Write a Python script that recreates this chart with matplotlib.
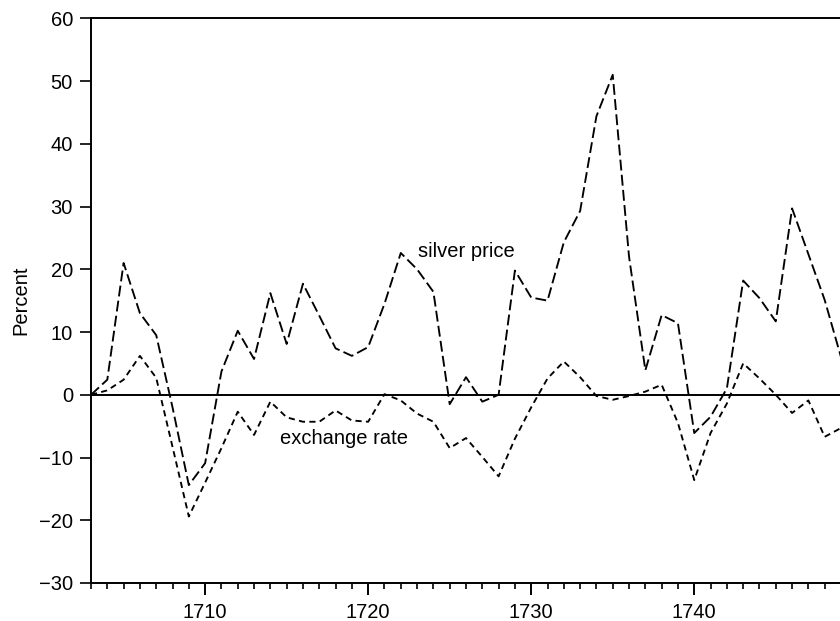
import matplotlib
matplotlib.use("Agg")
import matplotlib.pyplot as plt
from matplotlib.ticker import MultipleLocator

plt.rcParams['font.family'] = ['Liberation Sans', 'DejaVu Sans']

years = list(range(1703, 1750))
silver_price = [0, 2.4, 21.0, 13.0, 9.5, -2.0, -14.4, -10.9, 3.7, 10.2,
                5.7, 16.2, 8.1, 17.7, 12.6, 7.4, 6.2, 7.6, 14.5, 22.6,
                20.0, 16.4, -1.5, 2.8, -1.1, 0.0, 19.8, 15.5, 15.0, 24.3,
                29.3, 44.4, 51.0, 22.0, 3.9, 12.7, 11.4, -6.1, -3.5, 1.0,
                18.2, 15.4, 11.7, 29.7, 22.4, 15.1, 6.0]
exchange_rate = [0, 0.7, 2.4, 6.2, 2.7, -8.3, -19.4, -14.0, -8.5, -2.7,
                 -6.4, -1.1, -3.6, -4.3, -4.3, -2.5, -4.1, -4.3, 0.1, -0.9,
                 -3.0, -4.3, -8.5, -6.9, -9.9, -13.0, -7.0, -2.0, 2.6, 5.3,
                 2.8, -0.2, -0.8, -0.2, 0.5, 1.6, -4.5, -13.6, -6.1, -1.4,
                 5.0, 2.6, 0.0, -2.9, -0.9, -6.7, -5.3]

fig = plt.figure(figsize=(8.4, 6.21), dpi=100)
ax = fig.add_axes([91 / 840, 38 / 621, 750 / 840, 564.7 / 621])

ax.axhline(0, color='black', lw=1.4)
ax.plot(years, silver_price, color='black', lw=1.35, dashes=(5.8, 2.3))
ax.plot(years, exchange_rate, color='black', lw=1.35, dashes=(3.3, 2.3))

ax.text(1723.05, 22.8, 'silver price', fontsize=14.5, va='center', ha='left')
ax.text(1714.6, -6.9, 'exchange rate', fontsize=14.5, va='center', ha='left')

ax.set_xlim(1703, 1749)
ax.set_ylim(-30, 60)
ax.xaxis.set_major_locator(MultipleLocator(10))
ax.xaxis.set_minor_locator(MultipleLocator(1))
ax.yaxis.set_major_locator(MultipleLocator(10))
ax.tick_params(axis='x', which='major', length=8.5, width=1.4, pad=6, labelsize=14.5)
ax.tick_params(axis='x', which='minor', length=4, width=1.2)
ax.tick_params(axis='y', which='major', length=8, width=1.2, pad=5, labelsize=14.5)
ax.yaxis.set_major_formatter(plt.FuncFormatter(lambda v, p: f'{int(v)}'.replace('-', '\u2212')))

for side in ['left', 'bottom', 'top']:
    ax.spines[side].set_linewidth(1.4)
ax.spines['right'].set_visible(False)

ax.set_ylabel('Percent', fontsize=14.5, labelpad=6)

fig.savefig('out.png', dpi=100)
